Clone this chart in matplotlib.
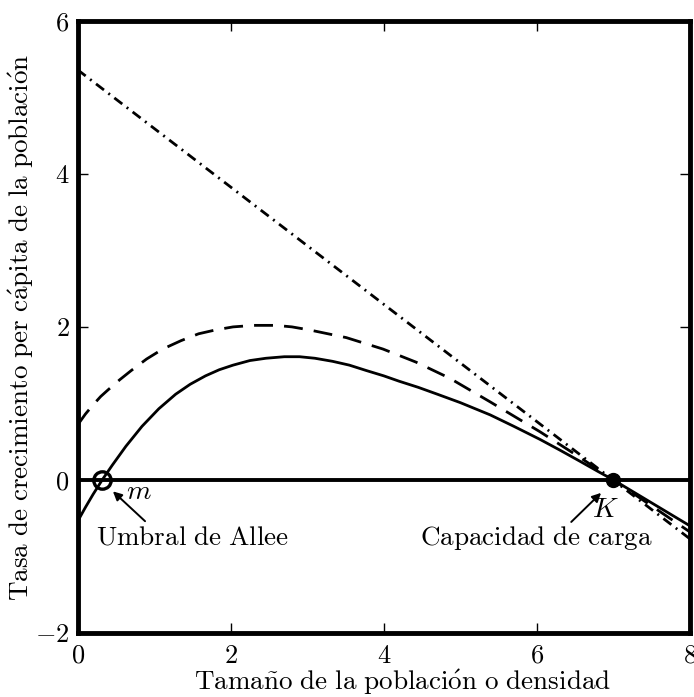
import matplotlib
matplotlib.use("Agg")
import matplotlib.pyplot as plt

plt.rcParams['mathtext.fontset'] = 'cm'
plt.rcParams['font.family'] = ['cmr10', 'DejaVu Serif']
plt.rcParams['axes.formatter.use_mathtext'] = True

# values
solid_x = [0, 0.1, 0.2, 0.32, 0.45, 0.63, 0.84, 1.06, 1.28, 1.47, 1.67, 1.85, 2.03,
           2.25, 2.46, 2.7, 2.9, 3.1, 3.33, 3.55, 3.77, 4.0, 4.2, 4.45, 4.7, 5.0,
           5.39, 5.7, 6.04, 6.3, 6.57, 6.8, 7.0, 7.5, 8.0]
solid_y = [-0.54, -0.36, -0.19, 0.0, 0.19, 0.44, 0.70, 0.93, 1.12, 1.25, 1.36, 1.44, 1.5,
           1.56, 1.59, 1.61, 1.61, 1.59, 1.55, 1.5, 1.43, 1.36, 1.29, 1.21, 1.12, 1.01,
           0.85, 0.7, 0.53, 0.39, 0.24, 0.11, 0.0, -0.3, -0.6]

dashed_x = [0, 0.1, 0.2, 0.3, 0.4, 0.55, 0.7, 0.9, 1.11, 1.35, 1.58, 1.8, 2.03, 2.3,
            2.59, 2.8, 3.03, 3.51, 3.99, 4.42, 4.86, 5.39, 6.04, 6.57, 7.0, 7.5, 8.0]
dashed_y = [0.72, 0.86, 0.98, 1.09, 1.18, 1.31, 1.43, 1.58, 1.71, 1.82, 1.91, 1.96, 2.0, 2.02,
            2.02, 2.0, 1.96, 1.86, 1.71, 1.54, 1.33, 1.02, 0.63, 0.29, 0.0, -0.34, -0.68]

line_x = [0, 8]
line_y = [5.36, -0.77]

allee_m = 0.32
capacity_k = 7.0

xticks = [0, 2, 4, 6, 8]
yticks = [-2, 0, 2, 4, 6]

fig = plt.figure(figsize=(6.94, 6.97), dpi=100)
ax = fig.add_axes([0.112, 0.092, 0.882, 0.878])

ax.axhline(0, color='black', lw=2.8, zorder=1)
ax.plot(line_x, line_y, color='black', lw=2.0, dashes=(3.6, 2.0, 0.7, 2.0))
ax.plot(dashed_x, dashed_y, color='black', lw=2.0, dashes=(6.8, 4.0))
ax.plot(solid_x, solid_y, color='black', lw=2.0)

ax.plot([allee_m], [0], 'o', ms=12.5, mfc='none', mec='black', mew=2.4, zorder=5)
ax.plot([capacity_k], [0], 'o', ms=10, color='black', zorder=5)

arrow = dict(arrowstyle='-|>', color='black', lw=1.4, mutation_scale=13, shrinkA=0, shrinkB=0)
ax.annotate('', xy=(0.46, -0.15), xytext=(0.88, -0.54), arrowprops=arrow)
ax.annotate('', xy=(6.84, -0.17), xytext=(6.45, -0.55), arrowprops=arrow)

ax.text(0.8, -0.16, r'$m$', fontsize=20, ha='center', va='center')
ax.text(6.9, -0.39, r'$K$', fontsize=20, ha='center', va='center')
ax.text(1.5, -0.85, r'$\mathrm{Umbral\ de\ Allee}$', fontsize=19.5, ha='center', va='baseline')
ax.text(6.0, -0.85, r'$\mathrm{Capacidad\ de\ carga}$', fontsize=19.5, ha='center', va='baseline')

ax.set_xlim(0, 8)
ax.set_ylim(-2, 6)
ax.set_xticks(xticks)
ax.set_yticks(yticks)
ax.set_xticklabels([f'${t}$' for t in xticks])
ax.set_yticklabels([f'${t}$' for t in yticks])
ax.tick_params(direction='in', length=7, width=1, top=True, right=True, labelsize=19)
ax.tick_params(axis='x', pad=8)
ax.tick_params(axis='y', pad=6)
for s in ax.spines.values():
    s.set_linewidth(3.5)

ax.set_xlabel(r'$\mathrm{Tama\tilde{n}o\ de\ la\ poblaci\acute{o}n\ o\ densidad}$', fontsize=19.5)
ax.set_ylabel(r'$\mathrm{Tasa\ de\ crecimiento\ per\ c\acute{a}pita\ de\ la\ poblaci\acute{o}n}$', fontsize=19.5)
ax.xaxis.set_label_coords(0.53, -0.057)
ax.yaxis.set_label_coords(-0.068, 0.5)

fig.savefig('out.png', dpi=100)
